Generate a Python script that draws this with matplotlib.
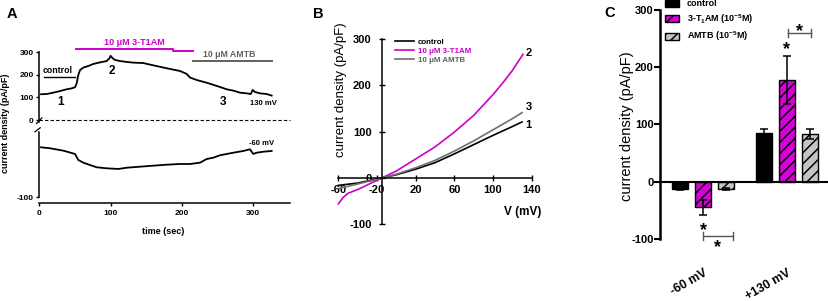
import matplotlib
matplotlib.use('Agg')
import matplotlib.pyplot as plt
from matplotlib.lines import Line2D
import numpy as np

plt.rcParams['font.family'] = ['Liberation Sans', 'DejaVu Sans']
plt.rcParams['mathtext.fontset'] = 'custom'
plt.rcParams['mathtext.rm'] = 'Liberation Sans:bold'
plt.rcParams['mathtext.it'] = 'Liberation Sans:bold'
plt.rcParams['mathtext.bf'] = 'Liberation Sans:bold'
plt.rcParams['hatch.linewidth'] = 1.1

W, H = 829, 301
MAG = '#cc00cc'
MAG_C = '#d800d8'
GRAY_T = '#606060'

# ---------------- Panel A data ----------------
t_130 = [2.4, 10.3, 19.7, 29, 38.4, 45.4, 50.1, 52.4, 54.7, 57.1, 61.7, 68.7, 75.7, 85.1,
         94.5, 98.2, 100.1, 102.9, 106.2, 113.2, 122.6, 131.8, 145.9, 159.9, 178.7, 197.3,
         206.7, 211.4, 220.8, 234.8, 248.8, 262.8, 272.1, 281.5, 290.9, 296.5, 299.3, 302.5,
         309.5, 318.9, 325.9]
i_130 = [114, 115, 121, 128, 136, 140, 145, 162, 199, 221, 232, 239, 248, 255,
         261, 273, 284, 273, 266, 261, 257, 254, 252, 242, 229, 217,
         204, 188, 177, 165, 151, 136, 130, 121, 118, 115, 133, 124,
         118, 115, 108]
t_m60 = [2.4, 15, 33.7, 50.1, 54.7, 61.7, 71.1, 80.5, 94.5, 110.8, 122.6, 141.2, 159.9,
         178.7, 197.3, 211.4, 225.4, 234.8, 244, 253.4, 262.8, 272.1, 286.1, 295.5, 300.1,
         304.9, 314.3, 325.9]
i_m60 = [-16.7, -18.3, -22.3, -27.8, -37.8, -42.3, -46.2, -50, -51.7, -52.8, -50.7, -49, -47.3,
         -45.7, -44.5, -44.5, -42.3, -36.2, -34, -30, -27.8, -25.7, -22.8, -20, -27.8,
         -25.7, -24, -22.8]
a_xticks = [0, 100, 200, 300]
a_upper_yticks = [0, 100, 200, 300]
a_lower_yticks = [-100]
ctrl_bar_t = [6, 50]
ctrl_bar_y = [192, 192]
t1am_bar_t = [52, 188, 188, 215]
t1am_bar_y = [313, 313, 307, 307]
amtb_bar_t = [215, 327]
amtb_bar_y = [263, 263]

# ---------------- Panel B data ----------------
v_ctrl = [-60, -40, -15, 0, 20, 40, 60, 80, 100, 120, 130]
i_ctrl = [-16, -11, 0, 7, 19, 33, 52, 72, 92, 111, 121]
v_t1am = [-60, -55, -50, -40, -30, -15, 0, 20, 40, 60, 80, 100, 110, 120, 131]
i_t1am = [-56, -42, -33, -25, -15, 0, 15, 41, 67, 99, 135, 180, 205, 232, 267]
v_amtb = [-60, -40, -15, 0, 20, 40, 60, 80, 100, 120, 130]
i_amtb = [-23, -13, 0, 8, 22, 38, 58, 80, 104, 128, 141]
b_xticks = [-60, -20, 20, 60, 100, 140]
b_yticks = [-100, 0, 100, 200, 300]

# ---------------- Panel C data ----------------
c_groups = ['-60 mV', '+130 mV']
c_control = [-13, 84.5]
c_control_err = [2, 8]
c_t1am = [-45, 177.5]
c_t1am_err = [13, 42]
c_amtb = [-13, 83]
c_amtb_err = [2, 9]
c_yticks = [-100, 0, 100, 200, 300]

fig = plt.figure(figsize=(W / 100, H / 100), dpi=100)


def add_ax(x0, y0, x1, y1):
    return fig.add_axes([x0 / W, 1 - y1 / H, (x1 - x0) / W, (y1 - y0) / H])


def ftext(x, y, s, **kw):
    fig.text(x / W, 1 - y / H, s, **kw)


# ================= Panel A =================
A_X0, A_X1 = 39.3, 290
xlim_a = (0, (A_X1 - A_X0) / 0.713)
axU = add_ax(A_X0, 45, A_X1, 123.3)
axL = add_ax(A_X0, 131.7, A_X1, 203.3)
for ax in (axU, axL):
    ax.set_xlim(*xlim_a)
    ax.spines[['top', 'right']].set_visible(False)
    for s in ax.spines.values():
        s.set_linewidth(1.1)
    ax.tick_params(axis='y', direction='out', length=2.5, width=1, labelsize=6, pad=1.5)
axU.set_ylim(-14.6, 332)
axU.spines['bottom'].set_visible(False)
axU.spines['left'].set_bounds(-8, 300)
axU.set_xticks([])
axU.set_yticks(a_upper_yticks)
axU.set_yticklabels([str(v) for v in a_upper_yticks], fontweight='bold')
axU.plot(t_130, i_130, color='black', lw=1.3, solid_joinstyle='round')
axU.axhline(0, color='black', lw=0.8, ls=(0, (3, 2)), clip_on=False)
axU.plot(ctrl_bar_t, ctrl_bar_y, color='black', lw=1.0, clip_on=False)
axU.plot(t1am_bar_t, t1am_bar_y, color=MAG, lw=1.4, clip_on=False)
axU.plot(amtb_bar_t, amtb_bar_y, color=GRAY_T, lw=1.4, clip_on=False)
axU.text(4.8, 221, 'control', fontsize=6.3, fontweight='bold', va='center', ha='left')
axU.text(134, 344, '10 μM 3-T1AM', fontsize=6.5, fontweight='bold', color=MAG,
         va='center', ha='center', clip_on=False)
axU.text(267, 291, '10 μM AMTB', fontsize=6.3, fontweight='bold', color=GRAY_T,
         va='center', ha='center')
axU.text(30.4, 80, '1', fontsize=8.5, fontweight='bold', ha='center', va='center')
axU.text(102, 217, '2', fontsize=8.5, fontweight='bold', ha='center', va='center')
axU.text(257.6, 80, '3', fontsize=8.5, fontweight='bold', ha='center', va='center')
axU.text(295.5, 71, '130 mV', fontsize=5.5, fontweight='bold', ha='left', va='center')

axL.set_ylim(-110, 9.3)
axL.spines['left'].set_bounds(-100, 9.3)
axL.set_yticks(a_lower_yticks)
axL.set_yticklabels([str(v) for v in a_lower_yticks], fontweight='bold')
axL.set_xticks(a_xticks)
axL.set_xticklabels([str(v) for v in a_xticks], fontweight='bold')
axL.tick_params(axis='x', direction='out', length=2.5, width=1, labelsize=6, pad=2)
axL.plot(t_m60, i_m60, color='black', lw=1.3, solid_joinstyle='round')
axL.text(294.5, -11, '-60 mV', fontsize=5.5, fontweight='bold', ha='left', va='center')

# axis break marks
for (xa, ya, xb, yb) in [(36.5, 123.5, 41.8, 118.0), (35.0, 131.8, 40.2, 127.8)]:
    fig.add_artist(Line2D([xa / W, xb / W], [1 - ya / H, 1 - yb / H], color='black', lw=0.9))

ftext(163, 231, 'time (sec)', fontsize=6.5, fontweight='bold', ha='center', va='center')
ftext(5.5, 123, 'current density (pA/pF)', fontsize=6.5, fontweight='bold', rotation=90,
      ha='center', va='center')
ftext(11.7, 14.3, 'A', fontsize=10.5, fontweight='bold', ha='center', va='center')

# ================= Panel B =================
axB = add_ax(338.3, 39, 531.7, 224.3)
axB.set_xlim(-60, 140)
axB.set_ylim(-100, 300)
axB.spines[['top', 'right']].set_visible(False)
axB.spines['left'].set_position(('data', -15))
axB.spines['bottom'].set_position(('data', 0))
for s in axB.spines.values():
    s.set_linewidth(1.1)
axB.set_xticks(b_xticks)
axB.set_xticklabels([str(v) for v in b_xticks], fontweight='bold')
axB.set_yticks(b_yticks)
axB.set_yticklabels([str(v) for v in b_yticks], fontweight='bold')
axB.tick_params(direction='inout', length=4.5, width=1, labelsize=8)
axB.tick_params(axis='x', pad=3)
axB.tick_params(axis='y', pad=5)
l1, = axB.plot(v_ctrl, i_ctrl, color='black', lw=1.2, label='control', clip_on=False)
l2, = axB.plot(v_t1am, i_t1am, color=MAG, lw=1.2, label='10 μM 3-T1AM', clip_on=False)
l3, = axB.plot(v_amtb, i_amtb, color='#707070', lw=1.2, label='10 μM AMTB', clip_on=False)
legB = axB.legend(handles=[l1, l2, l3], loc='upper left',
                  bbox_to_anchor=(395 / W, 1 - 38.5 / H), bbox_transform=fig.transFigure,
                  frameon=False, borderpad=0, borderaxespad=0, handlelength=2.4,
                  handletextpad=0.5, labelspacing=0.15,
                  prop={'size': 5.7, 'weight': 'bold'})
for txt, c in zip(legB.get_texts(), ['black', MAG, GRAY_T]):
    txt.set_color(c)
axB.text(1.052, 0.068, 'V (mV)', transform=axB.transAxes, fontsize=8.5, fontweight='bold',
         ha='right', va='center')
axB.text(137, 270, '2', fontsize=8, fontweight='bold', ha='center', va='center')
axB.text(137, 153, '3', fontsize=8, fontweight='bold', ha='center', va='center')
axB.text(137, 115, '1', fontsize=8, fontweight='bold', ha='center', va='center')
ftext(340.7, 90, 'current density (pA/pF)', fontsize=9.5, rotation=90, ha='center', va='center')
ftext(318, 14.3, 'B', fontsize=10.5, fontweight='bold', ha='center', va='center')

# ================= Panel C =================
axC = add_ax(660, 9.7, 829, 239)
axC.set_xlim(-0.517, 1.502)
axC.set_ylim(-100, 300)
axC.spines[['top', 'right', 'bottom']].set_visible(False)
axC.spines['left'].set_linewidth(1.8)
axC.spines['left'].set_bounds(-100, 300)
x = np.arange(len(c_groups))
off = 0.275
bw = 0.19
ekw = dict(ecolor='black', capsize=3, elinewidth=1.1, capthick=1.1)
b1 = axC.bar(x - off, c_control, bw, yerr=c_control_err, color='black', edgecolor='black',
             lw=1, error_kw=ekw, label='control')
b2 = axC.bar(x, c_t1am, bw, yerr=c_t1am_err, color=MAG_C, edgecolor='black', hatch='///',
             lw=1, error_kw=ekw, label='3-T$_1$AM (10$^{-5}$M)')
b3 = axC.bar(x + off, c_amtb, bw, yerr=c_amtb_err, color='#c4c4c4', edgecolor='black',
             hatch='///', lw=1, error_kw=ekw, label='AMTB (10$^{-5}$M)')
axC.axhline(0, color='black', lw=1.5, zorder=3)
axC.set_yticks(c_yticks)
axC.set_yticklabels([str(v) for v in c_yticks], fontweight='bold')
axC.tick_params(axis='y', direction='out', length=4, width=1.5, labelsize=8, pad=0.5)
axC.set_xticks(x)
axC.set_xticklabels(c_groups, rotation=30, ha='right', rotation_mode='anchor',
                    fontweight='bold', fontsize=8.8)
axC.tick_params(axis='x', length=0, pad=20)
legC = axC.legend(handles=[b1, b2, b3], loc='upper left',
                  bbox_to_anchor=(665 / W, 1 - (-0.5) / H), bbox_transform=fig.transFigure,
                  frameon=False, borderpad=0, borderaxespad=0, handlelength=1.6,
                  handleheight=0.85, handletextpad=0.8, labelspacing=0.42,
                  prop={'size': 6.5, 'weight': 'bold'})
# significance marks
BR = '#555555'
axC.plot([1.008, 1.283], [259, 259], color=BR, lw=1)
axC.plot([1.008, 1.008], [252, 266], color=BR, lw=1)
axC.plot([1.283, 1.283], [252, 266], color=BR, lw=1)
axC.plot([0.0, 0.351], [-94, -94], color=BR, lw=1, clip_on=False)
axC.plot([0.0, 0.0], [-87, -101], color=BR, lw=1, clip_on=False)
axC.plot([0.351, 0.351], [-87, -101], color=BR, lw=1, clip_on=False)
for (sx, sy) in [(1.0, 222.8), (1.146, 254.8), (0.0, -94), (0.175, -122)]:
    axC.text(sx, sy, '*', fontsize=13, fontweight='bold', ha='center', va='baseline',
             clip_on=False)
ftext(626.7, 126.5, 'current density (pA/pF)', fontsize=10.5, rotation=90,
      ha='center', va='center')
ftext(610, 13.3, 'C', fontsize=10.5, fontweight='bold', ha='center', va='center')

fig.savefig('out.png', dpi=100)
